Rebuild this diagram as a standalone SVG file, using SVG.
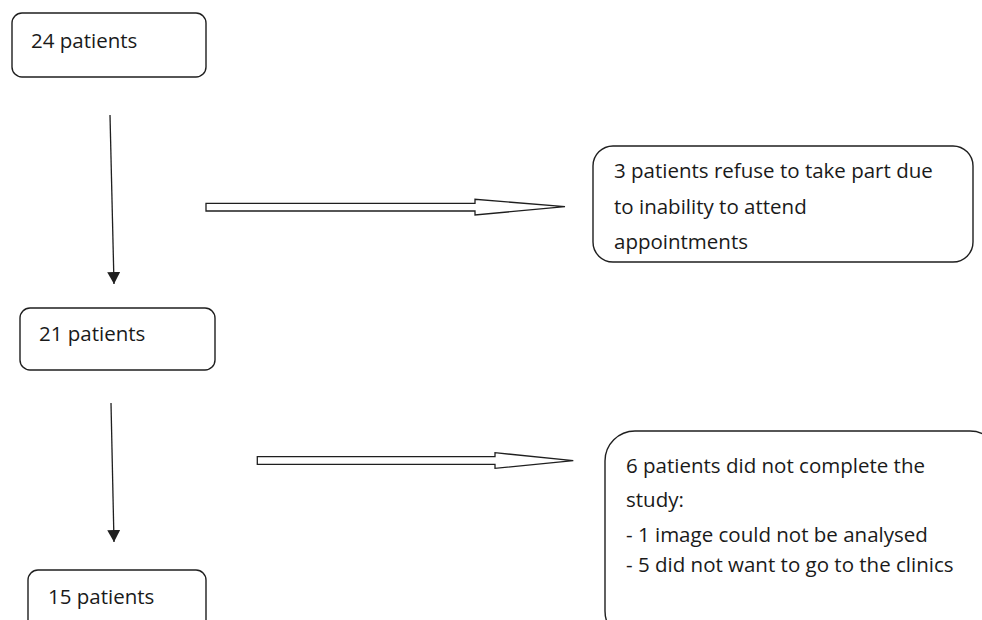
<svg xmlns="http://www.w3.org/2000/svg" width="982" height="620" viewBox="0 0 982 620">
<style>
.box{fill:#fff;stroke:#1f1f1f;stroke-width:1.4}
.t{font-family:"Open Sans","Noto Sans","Liberation Sans",sans-serif;font-size:20.5px;fill:#1a1a1a}
.ln{stroke:#1f1f1f;stroke-width:1.3;fill:none}
.blk{fill:#fff;stroke:#1f1f1f;stroke-width:1.3;stroke-linejoin:miter}
</style>
<defs>
<marker id="ah" viewBox="0 0 10 10" refX="10" refY="5" markerWidth="12" markerHeight="13" markerUnits="userSpaceOnUse" orient="auto" preserveAspectRatio="none">
<path d="M0,0 L10,5 L0,10 Z" fill="#1f1f1f"/>
</marker>
</defs>
<rect width="982" height="620" fill="#fff"/>
<g id="n24">
<rect class="box" x="12" y="13" width="194" height="64" rx="10"/>
<text class="t" x="31" y="48">24 patients</text>
</g>
<g id="n3refuse">
<rect class="box" x="593" y="146" width="380" height="116" rx="20"/>
<text class="t" x="614" y="178">3 patients refuse to take part due</text>
<text class="t" x="614" y="214">to inability to attend</text>
<text class="t" x="614" y="249">appointments</text>
</g>
<g id="n21">
<rect class="box" x="20" y="308" width="195" height="62" rx="10"/>
<text class="t" x="39" y="341">21 patients</text>
</g>
<g id="n6">
<rect class="box" x="605" y="431" width="395" height="210" rx="30"/>
<text class="t" x="626" y="473">6 patients did not complete the</text>
<text class="t" x="626" y="507">study:</text>
<text class="t" x="626" y="542">- 1 image could not be analysed</text>
<text class="t" x="626" y="572">- 5 did not want to go to the clinics</text>
</g>
<g id="n15">
<rect class="box" x="28" y="570" width="178" height="70" rx="10"/>
<text class="t" x="48" y="604">15 patients</text>
</g>
<g id="connectors">
<line class="ln" x1="110" y1="115" x2="114" y2="284" marker-end="url(#ah)"/>
<line class="ln" x1="111" y1="403" x2="114" y2="542" marker-end="url(#ah)"/>
<path class="blk" d="M206,203.3 L475,203.3 L475,199.3 L565,206.7 L475,215 L475,211 L206,211 Z"/>
<path class="blk" d="M257.3,456.7 L495,456.7 L495,452.7 L573.3,460.7 L495,468.3 L495,464.3 L257.3,464.3 Z"/>
</g>
</svg>
